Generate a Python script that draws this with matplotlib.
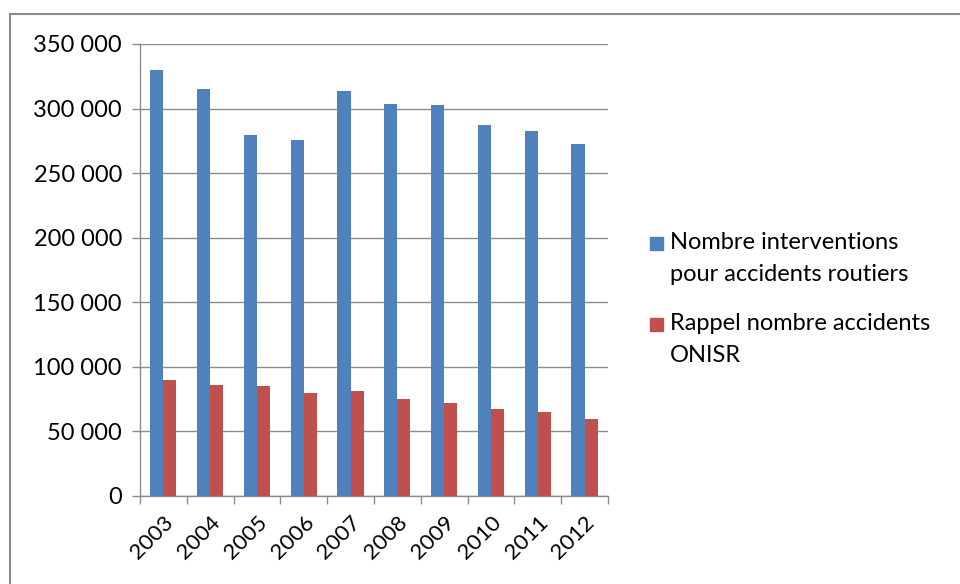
import numpy as np
import matplotlib
matplotlib.use("Agg")
import matplotlib.pyplot as plt
from matplotlib.patches import Rectangle
from matplotlib.ticker import FuncFormatter, MultipleLocator

years = ["2003", "2004", "2005", "2006", "2007", "2008", "2009", "2010", "2011", "2012"]
interventions = [330000, 315000, 279500, 275500, 313500, 303500, 302500, 287500, 283000, 272500]
accidents_onisr = [90000, 86000, 85000, 80000, 81000, 75000, 72000, 67000, 65000, 60000]
series_labels = ["Nombre interventions\npour accidents routiers",
                 "Rappel nombre accidents\nONISR"]

blue = "#4f81bd"
red = "#c0504d"

plt.rcParams['font.family'] = ['Lato', 'DejaVu Sans']

W, H = 960, 584
fig = plt.figure(figsize=(W/100, H/100), dpi=100)
ax = fig.add_axes([0.1458, 0.1507, 0.4875, 0.774])

# cadre gris autour du graphique
fig.patches.append(Rectangle((10/W, -0.05), 1.0, 1 - 14/H + 0.05, transform=fig.transFigure,
                             fill=False, edgecolor="#888888", linewidth=1.5))

x = np.arange(len(years))
w = 0.28
ax.bar(x - w/2, interventions, w, color=blue, zorder=3)
ax.bar(x + w/2, accidents_onisr, w, color=red, zorder=3)

ax.set_ylim(0, 350000)
ax.set_xlim(-0.5, len(years) - 0.5)
ax.yaxis.set_major_locator(MultipleLocator(50000))
ax.yaxis.set_major_formatter(FuncFormatter(lambda v, p: f"{int(v):,}".replace(",", " ")))
ax.grid(axis="y", color="#8c8c8c", linewidth=1, zorder=0)

ax.set_xticks(x)
ax.set_xticklabels(years, rotation=45, ha="right", rotation_mode="anchor", fontsize=16)
ax.set_xticks(np.arange(len(years) + 1) - 0.5, minor=True)
ax.tick_params(axis="x", which="major", length=0, pad=12)
ax.tick_params(axis="x", which="minor", length=6, color="#8c8c8c", width=1)
ax.tick_params(axis="y", length=6, color="#8c8c8c", width=1, labelsize=17, pad=7)

for s in ["top", "right"]:
    ax.spines[s].set_visible(False)
for s in ["left", "bottom"]:
    ax.spines[s].set_color("#8c8c8c")
    ax.spines[s].set_linewidth(1)

# légende faite à la main (carré aligné sur la première ligne)
for lab, col, y_top in zip(series_labels, [blue, red], [237, 318]):
    fig.patches.append(Rectangle((650/W, 1 - (y_top + 13)/H), 13/W, 13/H,
                                 transform=fig.transFigure, color=col))
    fig.text(670/W, 1 - (y_top - 5)/H, lab, fontsize=17, ha="left", va="top",
             linespacing=1.65, transform=fig.transFigure)

fig.savefig("out.png", dpi=100)
